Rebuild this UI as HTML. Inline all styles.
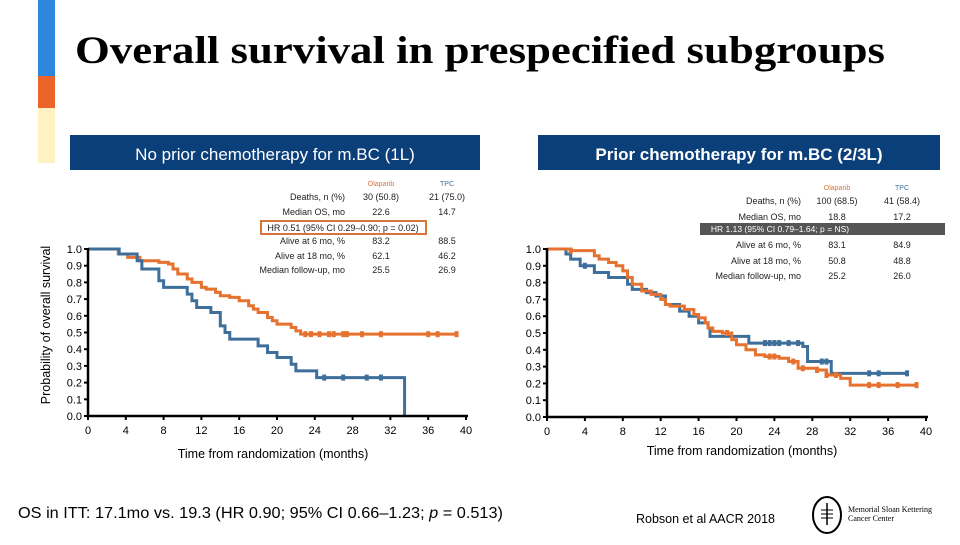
<!DOCTYPE html>
<html><head><meta charset="utf-8"><style>
body{margin:0;width:960px;height:540px;background:#fff;overflow:hidden;font-family:"Liberation Sans",sans-serif}
</style></head><body>
<svg width="960" height="540" xmlns="http://www.w3.org/2000/svg">
<rect x="38" y="0" width="17" height="76" fill="#2f86dd"/>
<rect x="38" y="76" width="17" height="32" fill="#ec6428"/>
<rect x="38" y="108" width="17" height="55" fill="#fff2c2"/>
<text x="480" y="63" text-anchor="middle" font-family="Liberation Serif,serif" font-weight="bold" font-size="39" textLength="810" lengthAdjust="spacingAndGlyphs">Overall survival in prespecified subgroups</text>
<rect x="70" y="135" width="410" height="35" fill="#0b3f7a"/>
<text x="275" y="160" text-anchor="middle" fill="#fff" font-size="17">No prior chemotherapy for m.BC (1L)</text>
<rect x="538" y="135" width="402" height="35" fill="#0b3f7a"/>
<text x="739" y="160" text-anchor="middle" fill="#fff" font-size="17" font-weight="bold">Prior chemotherapy for m.BC (2/3L)</text>
<text transform="translate(50,325) rotate(-90)" text-anchor="middle" font-size="12.5">Probability of overall survival</text>
<g font-size="9" fill="#222">
<text x="381" y="186" text-anchor="middle" fill="#d8743a" font-size="7">Olaparib</text>
<text x="447" y="186" text-anchor="middle" fill="#3e6e9a" font-size="7">TPC</text>
<text x="345" y="200" text-anchor="end">Deaths, n (%)</text><text x="381" y="200" text-anchor="middle">30 (50.8)</text><text x="447" y="200" text-anchor="middle">21 (75.0)</text>
<text x="345" y="215" text-anchor="end">Median OS, mo</text><text x="381" y="215" text-anchor="middle">22.6</text><text x="447" y="215" text-anchor="middle">14.7</text>
<rect x="261" y="221" width="165" height="13" fill="none" stroke="#d8743a" stroke-width="2"/>
<text x="343" y="231" text-anchor="middle">HR 0.51 (95% CI 0.29–0.90; p = 0.02)</text>
<text x="345" y="244" text-anchor="end">Alive at 6 mo, %</text><text x="381" y="244" text-anchor="middle">83.2</text><text x="447" y="244" text-anchor="middle">88.5</text>
<text x="345" y="259" text-anchor="end">Alive at 18 mo, %</text><text x="381" y="259" text-anchor="middle">62.1</text><text x="447" y="259" text-anchor="middle">46.2</text>
<text x="345" y="273" text-anchor="end">Median follow-up, mo</text><text x="381" y="273" text-anchor="middle">25.5</text><text x="447" y="273" text-anchor="middle">26.9</text>
</g>
<g font-size="9" fill="#222">
<text x="837" y="190" text-anchor="middle" fill="#d8743a" font-size="7">Olaparib</text>
<text x="902" y="190" text-anchor="middle" fill="#3e6e9a" font-size="7">TPC</text>
<text x="801" y="204" text-anchor="end">Deaths, n (%)</text><text x="837" y="204" text-anchor="middle">100 (68.5)</text><text x="902" y="204" text-anchor="middle">41 (58.4)</text>
<text x="801" y="220" text-anchor="end">Median OS, mo</text><text x="837" y="220" text-anchor="middle">18.8</text><text x="902" y="220" text-anchor="middle">17.2</text>
<rect x="700" y="223" width="245" height="12" fill="#555"/>
<text x="780" y="232" text-anchor="middle" fill="#fff" font-size="8.5">HR 1.13 (95% CI 0.79–1.64; p = NS)</text>
<text x="801" y="248" text-anchor="end">Alive at 6 mo, %</text><text x="837" y="248" text-anchor="middle">83.1</text><text x="902" y="248" text-anchor="middle">84.9</text>
<text x="801" y="264" text-anchor="end">Alive at 18 mo, %</text><text x="837" y="264" text-anchor="middle">50.8</text><text x="902" y="264" text-anchor="middle">48.8</text>
<text x="801" y="279" text-anchor="end">Median follow-up, mo</text><text x="837" y="279" text-anchor="middle">25.2</text><text x="902" y="279" text-anchor="middle">26.0</text>
</g>
<g id="plotL"></g>
<g id="plotR"></g>
<text x="273" y="458" text-anchor="middle" font-size="12.5">Time from randomization (months)</text>
<text x="742" y="455" text-anchor="middle" font-size="12.5">Time from randomization (months)</text>
<text x="18" y="518" font-size="16" textLength="485" lengthAdjust="spacingAndGlyphs">OS in ITT: 17.1mo vs. 19.3 (HR 0.90; 95% CI 0.66–1.23; <tspan font-style="italic">p</tspan> = 0.513)</text>
<text x="636" y="523" font-size="12.5">Robson et al AACR 2018</text>
<g>
<ellipse cx="827" cy="515" rx="14" ry="18" fill="none" stroke="#000" stroke-width="2"/>
<line x1="827" y1="503" x2="827" y2="525" stroke="#000" stroke-width="1.5"/>
<line x1="821" y1="510" x2="833" y2="510" stroke="#000"/><line x1="821" y1="514" x2="833" y2="514" stroke="#000"/><line x1="821" y1="518" x2="833" y2="518" stroke="#000"/>
<text x="848" y="512" font-family="Liberation Serif,serif" font-size="8">Memorial Sloan Kettering</text>
<text x="848" y="521" font-family="Liberation Serif,serif" font-size="8">Cancer Center</text>
</g>
</svg>
<script>
const xTicks=[0,4,8,12,16,20,24,28,32,36,40];
const yTicks=[0.0,0.1,0.2,0.3,0.4,0.5,0.6,0.7,0.8,0.9,1.0];
const leftOlaTimes=[0,3.2,4.2,5.5,7.5,8.5,9,9.5,10.5,11,12,12.5,13.5,14,15,16,17,17.5,18,19,19.5,20,21.5,22,22.5];
const leftOlaSurv=[1,0.97,0.95,0.93,0.92,0.91,0.88,0.85,0.82,0.80,0.77,0.76,0.74,0.72,0.71,0.69,0.66,0.64,0.62,0.59,0.57,0.55,0.53,0.51,0.49];
const leftOlaEnd=39;
const leftOlaCens=[23,23.6,24.5,25.5,26,27,27.4,29,31,36,37,39];
const leftTpcTimes=[0,3.3,5.2,5.7,7.5,8,10.5,11,11.5,13,14,14.5,15,18,19,20,21.5,22,24.2,33.5];
const leftTpcSurv=[1,0.97,0.93,0.88,0.81,0.77,0.73,0.69,0.65,0.62,0.54,0.50,0.46,0.42,0.38,0.35,0.31,0.27,0.23,0];
const leftTpcEnd=33.5;
const leftTpcCens=[25,27,29.5,31];
const rightOlaTimes=[0,2.5,5,5.5,6.5,7.3,8,8.5,9,10,11,12,12.5,13,14.5,15.5,16,16.7,17,17.5,18.5,19.5,20,21,22,23,24.5,25.5,26.5,28.5,29.5,31,32];
const rightOlaSurv=[1,0.99,0.96,0.94,0.92,0.90,0.87,0.83,0.79,0.75,0.73,0.70,0.67,0.66,0.64,0.61,0.59,0.56,0.53,0.51,0.50,0.46,0.43,0.40,0.37,0.36,0.35,0.33,0.29,0.28,0.25,0.23,0.19];
const rightOlaEnd=39;
const rightOlaCens=[2.5,19,23.5,24,26,27,28.5,29.5,30.5,34,35,37,39];
const rightTpcTimes=[0,2,2.5,3.5,5,6.5,8.5,9,10.5,11.5,12.5,14,15,16,17,17.2,21.3,27,27.5,30];
const rightTpcSurv=[1,0.97,0.94,0.90,0.86,0.83,0.79,0.76,0.74,0.72,0.67,0.63,0.60,0.56,0.53,0.48,0.44,0.42,0.33,0.26];
const rightTpcEnd=38;
const rightTpcCens=[4,23,23.5,24,24.5,25.5,26.5,29,29.5,34,35,38];
const NS='http://www.w3.org/2000/svg';
function mk(tag,attrs,parent){const e=document.createElementNS(NS,tag);for(const k in attrs)e.setAttribute(k,attrs[k]);parent.appendChild(e);return e;}
function survAt(times,surv,t){let s=surv[0];for(let i=0;i<times.length;i++){if(times[i]<=t)s=surv[i];}return s;}
function drawPlot(g,x0,x1,yTop,yBot,series){
  const sx=t=>x0+(x1-x0)*t/40, sy=v=>yBot-(yBot-yTop)*v;
  series.forEach(s=>{
    let d='M'+sx(0)+','+sy(s.surv[0]);
    for(let i=1;i<s.times.length;i++){d+=' H'+sx(s.times[i])+' V'+sy(s.surv[i]);}
    d+=' H'+sx(s.end);
    const p=mk('path',{d:d,fill:'none',stroke:s.color,'stroke-width':3},g);
    
    
    s.cens.forEach(t=>{const v=survAt(s.times,s.surv,t);
      const c=mk('rect',{x:sx(t)-2,y:sy(v)-3,width:4,height:6,fill:s.color},g);
      
      });
  });
  const ax=mk('path',{d:'M'+x0+','+(yTop-1)+' V'+yBot+' H'+(x1+2),fill:'none',stroke:'#000','stroke-width':2.5},g);
  
  
  yTicks.forEach(v=>{mk('line',{x1:x0-4,x2:x0,y1:sy(v),y2:sy(v),stroke:'#000','stroke-width':2},g);
    const t=mk('text',{x:x0-6,y:sy(v)+4,'text-anchor':'end','font-size':11},g);t.textContent=v.toFixed(1);
    
    });
  xTicks.forEach(v=>{mk('line',{x1:sx(v),x2:sx(v),y1:yBot,y2:yBot+4,stroke:'#000','stroke-width':2},g);
    const t=mk('text',{x:sx(v),y:yBot+18,'text-anchor':'middle','font-size':11},g);t.textContent=v;
    
    });
}
drawPlot(document.getElementById('plotL'),88,466,249,416,[
 {times:leftOlaTimes,surv:leftOlaSurv,end:leftOlaEnd,cens:leftOlaCens,color:'#e5722f',name:'left-olaparib'},
 {times:leftTpcTimes,surv:leftTpcSurv,end:leftTpcEnd,cens:leftTpcCens,color:'#3e6e9a',name:'left-tpc'}]);
drawPlot(document.getElementById('plotR'),547,926,249,417,[
 {times:rightTpcTimes,surv:rightTpcSurv,end:rightTpcEnd,cens:rightTpcCens,color:'#3e6e9a',name:'right-tpc'},
 {times:rightOlaTimes,surv:rightOlaSurv,end:rightOlaEnd,cens:rightOlaCens,color:'#e5722f',name:'right-olaparib'}]);
</script>
</body></html>
